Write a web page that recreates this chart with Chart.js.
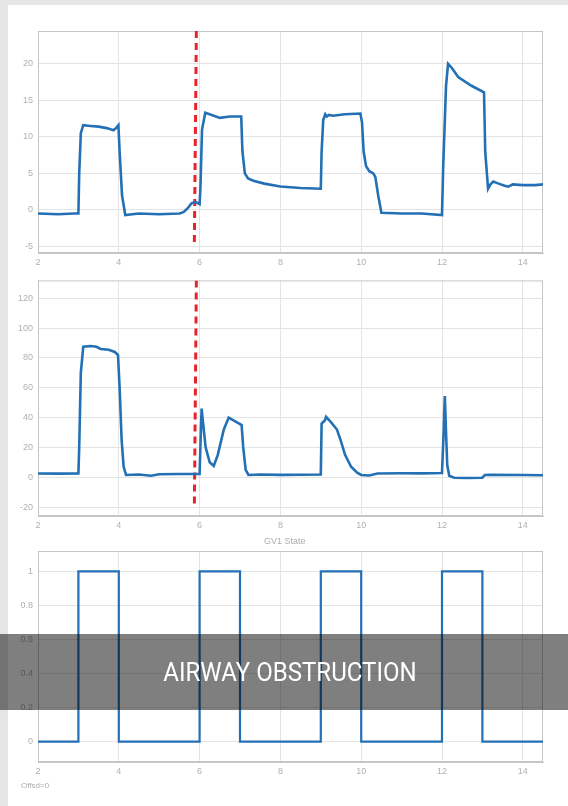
<!DOCTYPE html>
<html>
<head>
<meta charset="utf-8">
<script src="https://cdn.jsdelivr.net/npm/chart.js@4.4.1/dist/chart.umd.min.js"></script>
<style>
  body { margin:0; width:568px; height:806px; background:#e6e6e6; position:relative; overflow:hidden; font-family:"Liberation Sans", Arial, sans-serif; }
  #sheet { position:absolute; left:8px; top:5px; width:560px; height:801px; background:#fff; }
  .panel { position:absolute; left:0; width:568px; }
  .note { position:absolute; color:#ababab; font-size:9px; white-space:nowrap; }
  #band { position:absolute; left:0; top:634px; width:568px; height:76px; background:rgba(0,0,0,0.5);
          color:#fff; font-family:"Roboto",sans-serif; font-size:26px; line-height:76px; text-align:center; }
  #band span { display:inline-block; transform:scaleX(0.925); margin-left:12px; }
</style>
</head>
<body>
<div id="sheet"></div>
<div class="panel" style="top:0;height:270px"><canvas id="c1"></canvas></div>
<div class="panel" style="top:270px;height:260px"><canvas id="c2"></canvas></div>
<div class="panel" style="top:530px;height:276px"><canvas id="c3"></canvas></div>
<div class="note" style="left:264px;top:536px">GV1 State</div>
<div class="note" style="left:21px;top:781px;font-size:8px">Offsd=0</div>
<div id="band"><span>AIRWAY OBSTRUCTION</span></div>

<script>
/* DATA */
const xTicks = [2, 4, 6, 8, 10, 12, 14];
const yTicks1 = [-5, 0, 5, 10, 15, 20];
const yTicks2 = [-20, 0, 20, 40, 60, 80, 100, 120];
const yTicks3 = [0, 0.2, 0.4, 0.6, 0.8, 1];

// top trace
const topX = [2.0, 2.5, 2.9, 3.0, 3.02, 3.06, 3.12, 3.3, 3.5, 3.7, 3.87, 3.93, 3.99, 4.02, 4.08, 4.16, 4.5, 5.0, 5.5, 5.6, 5.7, 5.8, 5.9, 6.0, 6.02, 6.06, 6.14, 6.3, 6.5, 6.75, 7.03, 7.06, 7.12, 7.2, 7.33, 7.6, 8.0, 8.5, 9.0, 9.02, 9.06, 9.11, 9.15, 9.2, 9.3, 9.6, 9.98, 10.02, 10.06, 10.12, 10.2, 10.3, 10.35, 10.42, 10.5, 11.0, 11.5, 12.0, 12.03, 12.1, 12.15, 12.25, 12.4, 12.73, 13.04, 13.07, 13.14, 13.2, 13.27, 13.4, 13.55, 13.64, 13.75, 14.0, 14.3, 14.5];
const topY = [-0.5, -0.6, -0.5, -0.5, 5, 10.5, 11.6, 11.5, 11.4, 11.2, 10.9, 11.2, 11.6, 8, 2, -0.7, -0.5, -0.6, -0.5, -0.3, 0.2, 0.9, 1.1, 0.8, 3, 11, 13.3, 13.0, 12.6, 12.8, 12.8, 8, 5, 4.3, 4.0, 3.6, 3.2, 3.0, 2.9, 8, 12.3, 13.1, 12.8, 13.0, 12.9, 13.1, 13.2, 12, 8, 6, 5.3, 5.0, 4.5, 2, -0.4, -0.5, -0.5, -0.7, 6, 17, 20, 19.4, 18.2, 17.0, 16.1, 8, 2.9, 3.5, 3.9, 3.6, 3.3, 3.2, 3.5, 3.4, 3.4, 3.5];

// middle trace
const midX = [2.0, 2.5, 3.0, 3.02, 3.06, 3.12, 3.3, 3.45, 3.55, 3.75, 3.9, 3.98, 4.02, 4.07, 4.12, 4.18, 4.5, 4.8, 5.0, 5.5, 6.0, 6.03, 6.05, 6.08, 6.15, 6.25, 6.35, 6.45, 6.6, 6.72, 6.85, 6.98, 7.04, 7.08, 7.14, 7.21, 7.5, 8.0, 8.5, 9.0, 9.02, 9.06, 9.1, 9.13, 9.25, 9.4, 9.5, 9.6, 9.75, 9.9, 10.0, 10.2, 10.4, 11.0, 11.5, 12.0, 12.04, 12.07, 12.1, 12.13, 12.18, 12.3, 12.6, 13.0, 13.06, 13.2, 14.0, 14.5];
const midY = [2.5, 2.4, 2.6, 20, 70, 87.5, 88, 87.5, 86, 85.5, 84, 82, 60, 25, 7, 1.5, 1.8, 1, 2, 2.2, 2.2, 30, 46, 38, 20, 10, 7.5, 15, 32, 40, 38, 36, 35, 20, 5, 1.5, 1.8, 1.6, 1.7, 1.8, 36, 37, 38, 40.5, 37, 32, 24, 15, 7, 3, 1.5, 1.2, 2.5, 2.7, 2.6, 2.8, 30, 54.4, 30, 8, 1, -0.3, -0.5, -0.3, 1.5, 1.6, 1.5, 1.3];

// GV1 state
const stateX = [2, 3, 4, 6, 7, 9, 10, 12, 13, 14.5];
const stateY = [0, 1, 0, 1, 0, 1, 0, 1, 0, 0];

// obstruction marker (red dashed)
const markX = [5.92, 5.87];
const markY1 = [24.5, -4.6];
const markY2 = [132, -21];

/* STYLE */
const BLUE = "#2371b4";
const GRID = "#e4e4e4";
const BOX = "#c6c6c6";
const TICK = "#b0b0b0";

const boxPlugin = {
  id: "box",
  beforeDatasetsDraw(chart){
    const a = chart.chartArea, ctx = chart.ctx;
    ctx.save();
    ctx.strokeStyle = BOX;
    ctx.lineWidth = 1;
    ctx.strokeRect(a.left + 0.5, a.top + 0.5, a.right - a.left - 1, a.bottom - a.top - 1);
    ctx.restore();
  }
};

function pts(xs, ys){ return xs.map((x, i) => ({x: x, y: ys[i]})); }

function makeChart(id, sets, yMin, yMax, yTicks, padTop, xHeight){
  return new Chart(document.getElementById(id), {
    type: "line",
    data: { datasets: sets },
    options: {
      responsive: true,
      maintainAspectRatio: false,
      animation: false,
      layout: { padding: { top: padTop, right: 25, left: 0, bottom: 0 } },
      plugins: { legend: { display: false }, tooltip: { enabled: false } },
      elements: { point: { radius: 0 }, line: { tension: 0 } },
      scales: {
        x: {
          type: "linear", min: 2, max: 14.5,
          afterBuildTicks: s => { s.ticks = xTicks.map(v => ({value: v})); },
          afterFit: s => { s.height = xHeight; },
          grid: { color: GRID, drawTicks: false },
          border: { color: BOX },
          ticks: { color: TICK, font: { size: 9 }, padding: 4, maxRotation: 0 }
        },
        y: {
          type: "linear", min: yMin, max: yMax,
          afterBuildTicks: s => { s.ticks = yTicks.map(v => ({value: v})); },
          afterFit: s => { s.width = 38; },
          grid: { color: GRID, drawTicks: false },
          border: { color: BOX },
          ticks: { color: TICK, font: { size: 9 }, padding: 5, callback: v => String(v) }
        }
      }
    },
    plugins: [boxPlugin]
  });
}

const lineSet = (xs, ys, w) => ({ data: pts(xs, ys), borderColor: BLUE, borderWidth: w, fill: false });
const markSet = ys => ({ data: pts(markX, ys), borderColor: "#e8232a", borderWidth: 3, borderDash: [7, 5], fill: false });

makeChart("c1", [lineSet(topX, topY, 2.6), markSet(markY1)], -5.9, 24.5, yTicks1, 31, 17);
makeChart("c2", [lineSet(midX, midY, 2.6), markSet(markY2)], -26, 132, yTicks2, 10, 14);
const s3 = lineSet(stateX, stateY, 2.2);
s3.stepped = true;
makeChart("c3", [s3], -0.12, 1.12, yTicks3, 21, 44);
</script>
</body>
</html>
